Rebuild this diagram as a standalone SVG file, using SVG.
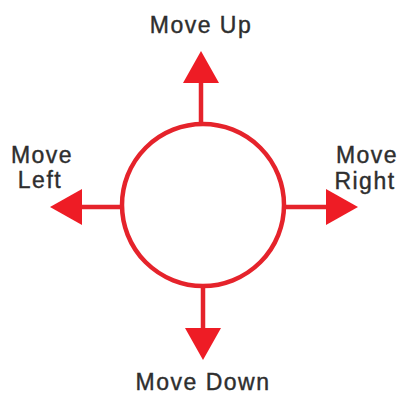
<svg xmlns="http://www.w3.org/2000/svg" width="400" height="395" viewBox="0 0 400 395">
  <style>
    .lbl { font-family: "Liberation Sans", Arial, sans-serif; font-size: 23px; fill: #2e2e2e; stroke: #2e2e2e; stroke-width: 0.4; letter-spacing: 1.5px; }
    .shaft { stroke: #e5232b; stroke-width: 4.5; fill: none; marker-end: url(#head); }
    .ring { fill: #ffffff; stroke: #e5232b; stroke-width: 4.5; }
  </style>
  <defs>
    <marker id="head" markerUnits="userSpaceOnUse" markerWidth="34" markerHeight="38" refX="0" refY="18" orient="auto" viewBox="0 0 34 36">
      <path d="M0,0 L32,18 L0,36 Z" fill="#ee1c25"/>
    </marker>
  </defs>
  <rect width="400" height="395" fill="#ffffff"/>
  <g id="connectors">
    <line class="shaft" x1="201" y1="124" x2="201" y2="83"/>
    <line class="shaft" x1="203" y1="286" x2="203" y2="328"/>
    <line class="shaft" x1="123" y1="207" x2="82" y2="207"/>
    <line class="shaft" x1="284" y1="207" x2="326" y2="207"/>
  </g>
  <g id="joystick">
    <circle class="ring" cx="203" cy="205" r="81"/>
  </g>
  <g id="up">
    <text class="lbl" x="201" y="33" text-anchor="middle">Move Up</text>
  </g>
  <g id="down">
    <text class="lbl" x="203" y="390" text-anchor="middle">Move Down</text>
  </g>
  <g id="left">
    <text class="lbl" x="42" y="163" text-anchor="middle">Move</text>
    <text class="lbl" x="40" y="188" text-anchor="middle">Left</text>
  </g>
  <g id="right">
    <text class="lbl" x="367" y="163" text-anchor="middle">Move</text>
    <text class="lbl" x="365" y="189" text-anchor="middle">Right</text>
  </g>
</svg>
